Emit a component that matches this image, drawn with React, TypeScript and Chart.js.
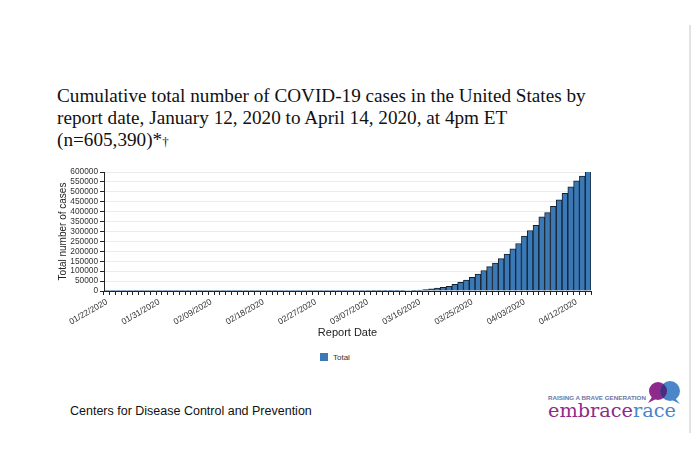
import React, { useEffect, useRef } from "react";
import { Chart, registerables } from "chart.js";

Chart.register(...registerables);

// ---- Data ----
const startDate = "2020-01-22";
const dayCount = 84; // 01/22/2020 .. 04/14/2020

const cumulativeCases: number[] = [
  // Jan 22 - Jan 31
  1, 1, 2, 2, 5, 5, 5, 5, 6, 7,
  // Feb 1 - Feb 29
  8, 11, 11, 11, 12, 12, 12, 12, 12, 12, 13, 13, 14, 15, 15, 15, 15, 15, 15, 15,
  35, 35, 35, 53, 53, 59, 60, 62, 70,
  // Mar 1 - Mar 31
  76, 101, 122, 153, 221, 278, 417, 537, 605, 959, 1281, 1663, 2179, 2726, 3487,
  4226, 7038, 10442, 15219, 18747, 24148, 33404, 43734, 54453, 68440, 85356,
  103321, 122653, 140904, 163539, 186101,
  // Apr 1 - Apr 14
  213144, 239279, 277205, 304826, 330891, 374329, 395011, 427460, 459165,
  492416, 525704, 554849, 579005, 605390,
];

const labelEvery = 9;
const yTickStep = 50000;
const yMax = 600000;

const titleLines = [
  "Cumulative total number of COVID-19 cases in the United States by",
  "report date, January 12, 2020 to April 14, 2020, at 4pm ET",
];
const titleLast = "(n=605,390)*";
const titleMark = "†";
const sourceText = "Centers for Disease Control and Prevention";
const seriesName = "Total";
const xTitle = "Report Date";
const yTitle = "Total number of cases";

const barColor = "#3a78b6";

function buildLabels(): string[] {
  const out: string[] = [];
  const d = new Date(startDate + "T12:00:00Z");
  for (let i = 0; i < dayCount; i++) {
    const mm = String(d.getUTCMonth() + 1).padStart(2, "0");
    const dd = String(d.getUTCDate()).padStart(2, "0");
    out.push(`${mm}/${dd}/${d.getUTCFullYear()}`);
    d.setUTCDate(d.getUTCDate() + 1);
  }
  return out;
}

const dateLabels = buildLabels();

function ChartBox() {
  const ref = useRef<HTMLCanvasElement | null>(null);
  useEffect(() => {
    if (!ref.current) return;
    const chart = new Chart(ref.current, {
      type: "bar",
      data: {
        labels: dateLabels,
        datasets: [
          {
            label: seriesName,
            data: cumulativeCases,
            backgroundColor: barColor,
            borderColor: "#15202e",
            borderWidth: 1,
            borderSkipped: "bottom",
            categoryPercentage: 1,
            barPercentage: 1,
          },
        ],
      },
      options: {
        animation: false,
        responsive: true,
        maintainAspectRatio: false,
        layout: { padding: { left: 17, right: 19, top: 14, bottom: 8 } },
        plugins: {
          legend: { display: false },
          tooltip: { enabled: false },
        },
        scales: {
          x: {
            afterFit: (s: any) => {
              s.height = 49;
            },
            grid: {
              display: true,
              drawOnChartArea: false,
              drawTicks: true,
              tickLength: 4,
              color: "#222",
            },
            border: { display: true, color: "#222", width: 1 },
            ticks: {
              autoSkip: false,
              maxRotation: 30,
              minRotation: 30,
              padding: 2,
              color: "#333",
              font: { family: "'Liberation Sans', Arial, sans-serif", size: 8.5 },
              callback: (_v: any, i: number) => (i % labelEvery === 0 ? dateLabels[i] : ""),
            },
            title: {
              display: true,
              text: xTitle,
              color: "#222",
              padding: 0,
              font: { family: "'Liberation Sans', Arial, sans-serif", size: 11 },
            },
          },
          y: {
            min: 0,
            max: yMax,
            afterFit: (s: any) => {
              s.width = 47;
            },
            grid: {
              color: "#ebebeb",
              tickColor: "#222",
              tickLength: 4,
              drawTicks: true,
            },
            border: { display: true, color: "#222", width: 1 },
            ticks: {
              stepSize: yTickStep,
              autoSkip: false,
              padding: 2,
              color: "#333",
              font: { family: "'Liberation Sans', Arial, sans-serif", size: 8.3 },
              callback: (v: any) => String(v),
            },
            title: {
              display: true,
              text: yTitle,
              color: "#222",
              padding: 0,
              font: { family: "'Liberation Sans', Arial, sans-serif", size: 10 },
            },
          },
        },
      },
    });
    return () => chart.destroy();
  }, []);
  return (
    <div style={{ position: "absolute", left: 40, top: 158, width: 570, height: 190 }}>
      <canvas ref={ref} />
    </div>
  );
}

function Logo() {
  return (
    <svg
      style={{ position: "absolute", left: 540, top: 378, width: 150, height: 46 }}
      viewBox="0 0 150 46"
    >
      <defs>
        <clipPath id="purpleClip">
          <circle cx="118" cy="13" r="9" />
        </clipPath>
      </defs>
      <path d="M112 19 L108 25 L116 21 Z" fill="#8e2a8c" />
      <path d="M135 20 L140 26 L132 22 Z" fill="#4a86c8" />
      <circle cx="118" cy="13" r="9" fill="#8e2a8c" />
      <circle cx="130" cy="13" r="10" fill="#4a86c8" />
      <circle cx="130" cy="13" r="10" fill="#4b2d7f" clipPath="url(#purpleClip)" />
      <text
        x="8"
        y="22"
        fontFamily="'Liberation Sans', Arial, sans-serif"
        fontSize="5"
        fontWeight="bold"
        fill="#6a78a6"
        textLength="98"
        lengthAdjust="spacingAndGlyphs"
      >
        RAISING A BRAVE GENERATION
      </text>
      <text
        x="8"
        y="39"
        fontFamily="'DejaVu Serif', serif"
        fontSize="19"
        textLength="128"
        lengthAdjust="spacingAndGlyphs"
      >
        <tspan fill="#8e2a8c">embrace</tspan>
        <tspan fill="#4a86c8">race</tspan>
      </text>
    </svg>
  );
}

export default function App() {
  return (
    <div
      style={{
        position: "absolute",
        left: 0,
        top: 0,
        width: 700,
        height: 460,
        background: "#fff",
        overflow: "hidden",
      }}
    >
      <div
        style={{
          position: "absolute",
          left: 57,
          top: 85,
          fontFamily: "'Liberation Serif', 'Times New Roman', serif",
          fontSize: 19.2,
          lineHeight: "22px",
          color: "#111",
          whiteSpace: "nowrap",
        }}
      >
        {titleLines.map((l, i) => (
          <div key={i}>{l}</div>
        ))}
        <div>
          {titleLast}
          <span style={{ fontSize: 13, color: "#111" }}>{titleMark}</span>
        </div>
      </div>

      <ChartBox />

      <div
        style={{
          position: "absolute",
          left: 320,
          top: 352,
          height: 10,
          display: "flex",
          alignItems: "center",
          fontFamily: "'Liberation Sans', Arial, sans-serif",
          fontSize: 8,
          color: "#333",
        }}
      >
        <span style={{ display: "inline-block", width: 8, height: 8, background: barColor, marginRight: 5 }} />
        <span>{seriesName}</span>
      </div>

      <div
        style={{
          position: "absolute",
          left: 70,
          top: 404,
          fontFamily: "'Liberation Sans', Arial, sans-serif",
          fontSize: 12.5,
          color: "#111",
          whiteSpace: "nowrap",
        }}
      >
        {sourceText}
      </div>

      <Logo />

      <div
        style={{
          position: "absolute",
          left: 689,
          top: 25,
          width: 2,
          height: 408,
          background: "#e2e2e2",
        }}
      />
    </div>
  );
}
